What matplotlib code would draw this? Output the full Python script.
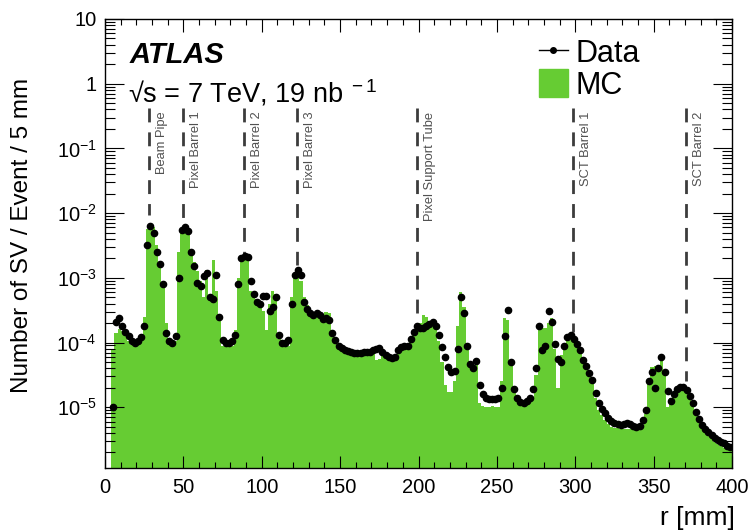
import numpy as np
import matplotlib.pyplot as plt
from matplotlib.lines import Line2D
from matplotlib.patches import Patch
from matplotlib.ticker import MultipleLocator, FixedLocator, LogLocator, FuncFormatter, NullFormatter

plt.rcParams.update({
    "font.family": "Liberation Sans",
    "mathtext.fontset": "custom",
    "mathtext.rm": "Liberation Sans",
    "mathtext.it": "Liberation Sans:italic",
    "mathtext.bf": "Liberation Sans:bold",
    "axes.linewidth": 1.0,
})

# 2 mm bins in r
r_edges = np.arange(0, 402, 2)

# log10 of number of SV / event (None = empty bin)
data_log10 = [
    None, None, -5.00, -3.68, -3.62, -3.74, -3.84, -3.90, -3.97, -4.00,
    -3.98, -3.91, -3.75, -2.50, -2.20, -2.30, -2.60, -2.78, -3.10, -3.85,
    -3.98, -4.00, -3.90, -3.00, -2.26, -2.22, -2.27, -2.60, -2.82, -3.08,
    -3.12, -2.97, -2.92, -3.30, -3.33, -2.95, -3.60, -3.96, -4.00, -4.00,
    -3.98, -3.88, -3.10, -2.70, -2.66, -2.68, -3.05, -3.25, -3.38, -3.40,
    -3.28, -3.28, -3.52, -3.45, -3.29, -3.88, -4.00, -4.00, -3.96, -3.40,
    -2.95, -2.88, -2.95, -3.38, -3.48, -3.55, -3.57, -3.55, -3.58, -3.64,
    -3.62, -3.65, -3.85, -3.96, -4.05, -4.08, -4.11, -4.13, -4.15, -4.16,
    -4.16, -4.16, -4.15, -4.15, -4.14, -4.11, -4.10, -4.09, -4.14, -4.20,
    -4.23, -4.24, -4.22, -4.12, -4.07, -4.06, -4.05, -3.95, -3.83, -3.75,
    -3.78, -3.77, -3.74, -3.71, -3.69, -3.74, -3.88, -4.07, -4.22, -4.38,
    -4.45, -4.44, -4.10, -3.30, -3.55, -4.05, -4.33, -4.40, -4.28, -4.65,
    -4.80, -4.86, -4.87, -4.88, -4.88, -4.85, -4.70, -3.90, -3.50, -4.30,
    -4.72, -4.85, -4.92, -4.93, -4.91, -4.86, -4.72, -4.40, -3.75, -4.12,
    -4.05, -3.52, -3.68, -4.02, -4.25, -4.30, -4.06, -3.91, -3.88, -3.95,
    -4.03, -4.11, -4.27, -4.37, -4.47, -4.58, -4.78, -4.93, -5.02, -5.09,
    -5.16, -5.22, -5.24, -5.26, -5.27, -5.26, -5.25, -5.26, -5.29, -5.31,
    -5.29, -5.20, -5.05, -4.60, -4.45, -4.70, -4.40, -4.22, -4.45, -4.75,
    -4.90, -4.80, -4.72, -4.68, -4.69, -4.74, -4.83, -4.94, -5.08, -5.18,
    -5.27, -5.34, -5.39, -5.43, -5.47, -5.50, -5.53, -5.56, -5.60, -5.61,
]

mc_log10 = [
    None, None, -4.10, -3.85, -3.79, -3.82, -3.90, -3.98, -4.04, -4.06,
    -4.03, -3.95, -3.60, -2.25, -2.15, -2.22, -2.50, -2.80, -3.10, -3.70,
    -4.02, -4.06, -3.98, -2.60, -2.27, -2.26, -2.33, -2.55, -2.75, -2.90,
    -3.05, -3.30, -2.88, -3.30, -2.72, -3.20, -3.65, -4.06, -4.06, -4.06,
    -4.06, -3.80, -3.00, -2.75, -2.62, -2.72, -3.20, -3.26, -3.32, -3.42,
    -3.52, -3.80, -3.40, -3.20, -3.25, -3.95, -4.06, -4.06, -4.06, -3.30,
    -2.97, -2.95, -3.05, -3.30, -3.42, -3.52, -3.60, -3.60, -3.62, -3.62,
    -3.53, -3.55, -3.85, -3.97, -4.06, -4.10, -4.12, -4.14, -4.16, -4.17,
    -4.17, -4.17, -4.16, -4.16, -4.15, -4.14, -4.27, -4.25, -4.20, -4.22,
    -4.25, -4.26, -4.24, -4.15, -4.08, -4.06, -4.04, -3.96, -3.84, -3.76,
    -3.70, -3.58, -3.60, -3.68, -3.70, -3.78, -3.98, -4.30, -4.65, -4.77,
    -4.77, -4.60, -3.75, -3.22, -3.45, -4.06, -4.32, -4.35, -4.30, -4.94,
    -4.98, -5.00, -4.99, -4.98, -4.99, -5.00, -4.60, -3.62, -3.65, -4.35,
    -4.78, -4.92, -4.95, -4.95, -4.95, -4.94, -4.85, -4.50, -3.80, -3.78,
    -3.78, -3.70, -3.62, -4.10, -4.70, -4.20, -4.05, -3.92, -3.89, -3.93,
    -4.03, -4.14, -4.22, -4.35, -4.47, -4.58, -4.85, -5.05, -5.12, -5.20,
    -5.26, -5.30, -5.32, -5.32, -5.33, -5.34, -5.34, -5.34, -5.34, -5.34,
    -5.34, -5.30, -5.10, -4.60, -4.38, -4.37, -4.37, -4.17, -4.50, -5.00,
    -4.85, -4.78, -4.73, -4.73, -4.73, -4.77, -4.83, -4.93, -5.05, -5.15,
    -5.25, -5.33, -5.40, -5.48, -5.53, -5.57, -5.60, -5.63, -5.64, -5.65,
]

# detector layers: name, radius [mm], lower end of the marker line
det_names = ["Beam Pipe", "Pixel Barrel 1", "Pixel Barrel 2", "Pixel Barrel 3",
             "Pixel Support Tube", "SCT Barrel 1", "SCT Barrel 2"]
det_r = [28, 50, 88.5, 122.3, 199, 298.4, 370.4]
det_low = [9.5e-3, 6.3e-3, 2.2e-3, 1.6e-3, 2.2e-4, 1.45e-4, 2.5e-5]
det_top = 0.42

y_ticks = [1e-5, 1e-4, 1e-3, 1e-2, 1e-1, 1, 10]

green = "#66cc33"

r_centers = 0.5 * (r_edges[1:] + r_edges[:-1])
data_vals = 10.0 ** np.array(data_log10, dtype=float)
mc_vals = 10.0 ** np.array(mc_log10, dtype=float)
mc_vals = np.where(np.isnan(mc_vals), 1e-9, mc_vals)

fig = plt.figure(figsize=(7.49, 5.32), dpi=100)
ax = fig.add_axes([105 / 749, 64 / 532, 627 / 749, 449 / 532])
ax.set_yscale("log")

# MC as one filled step polygon
ax.fill_between(r_edges, np.append(mc_vals, mc_vals[-1]), 1e-9, step="post",
                color=green, lw=0, zorder=1)
ax.plot(r_centers, data_vals, "o", color="black", ms=4.5, zorder=3)

for name, r, low in zip(det_names, det_r, det_low):
    ax.plot([r, r], [det_top, low], color="#3c3c3c", lw=2.0,
            linestyle=(0, (5, 3.6)), zorder=2)
    ax.text(r + 4.5, 0.37, name, rotation=90, ha="left", va="top",
            fontsize=9.3, color="#505050")

ax.set_xlim(0, 400)
ax.set_ylim(1.15e-6, 10)

ax.xaxis.set_major_locator(MultipleLocator(50))
ax.xaxis.set_minor_locator(MultipleLocator(10))
ax.yaxis.set_major_locator(FixedLocator(y_ticks))
ax.yaxis.set_minor_locator(LogLocator(base=10, subs=np.arange(2, 10), numticks=20))
ax.yaxis.set_minor_formatter(NullFormatter())


def log_label(v, pos):
    e = int(round(np.log10(v)))
    if e == 0:
        return "1"
    if e == 1:
        return "10"
    return r"10$^{%d}$" % e


ax.yaxis.set_major_formatter(FuncFormatter(log_label))
ax.tick_params(which="both", direction="in", top=True, right=True,
               labelsize=14.5, width=0.8)
ax.tick_params(axis="x", which="major", length=9, pad=7)
ax.tick_params(axis="x", which="minor", length=4.5)
ax.tick_params(axis="y", which="major", length=13.5, pad=6)
ax.tick_params(axis="y", which="minor", length=7)

fig.text(130 / 749, 1 - 63 / 532, "ATLAS", fontsize=21, fontweight="bold",
         fontstyle="italic", va="baseline")
fig.text(128 / 749, 1 - 102 / 532, "\u221as = 7 TeV, 19 nb$^{\\ -1}$",
         fontsize=19.5, va="baseline")

handles = [Line2D([], [], color="black", marker="o", ms=4, lw=1),
           Patch(facecolor=green, edgecolor=green)]
ax.legend(handles, ["Data", "MC"], loc="upper left", bbox_to_anchor=(0.692, 0.957),
          frameon=False, fontsize=22, handlelength=0.95, handleheight=1.0,
          handletextpad=0.25, labelspacing=0.0, borderpad=0, borderaxespad=0)

fig.text(22 / 749, 1 - 235 / 532, "Number of SV / Event / 5 mm", rotation=90,
         ha="center", va="center", fontsize=17.5)
fig.text(735 / 749, 1 - 525 / 532, "r [mm]", ha="right", va="baseline", fontsize=19)

fig.savefig("out.png", dpi=100)
